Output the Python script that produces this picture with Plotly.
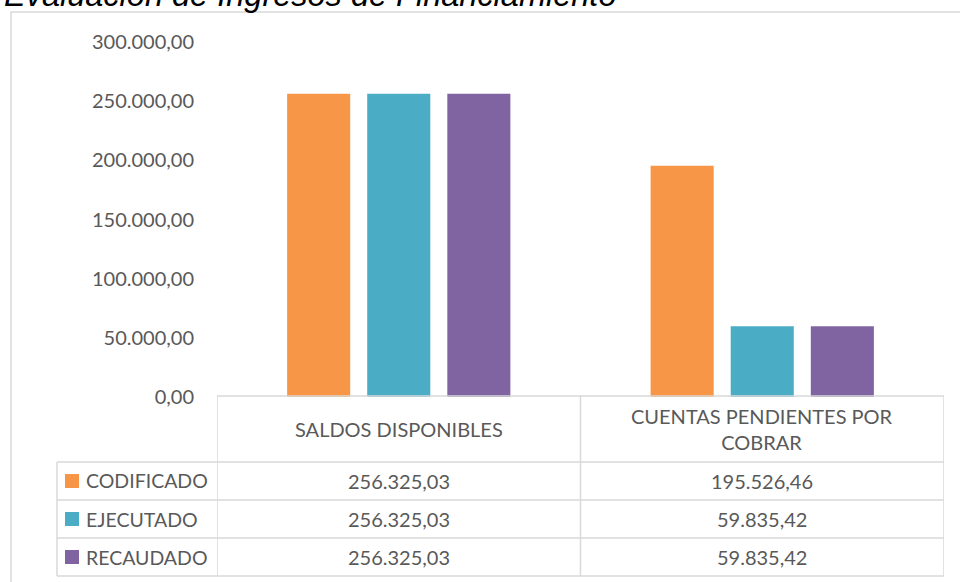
import plotly.graph_objects as go

categories = ["SALDOS DISPONIBLES", "CUENTAS PENDIENTES POR<br>COBRAR"]
series_names = ["CODIFICADO", "EJECUTADO", "RECAUDADO"]
codificado = [256325.03, 195526.46]
ejecutado = [256325.03, 59835.42]
recaudado = [256325.03, 59835.42]
y_ticks = [0, 50000, 100000, 150000, 200000, 250000, 300000]
title_text = "Evaluación de Ingresos de Financiamiento"

colors = ["#F79646", "#4BACC6", "#8064A2"]
series_values = [codificado, ejecutado, recaudado]


def fmt(v):
    s = f"{v:,.2f}"
    return s.replace(",", "X").replace(".", ",").replace("X", ".")


W, H = 960, 582
L, R, T, B = 217, 944, 42, 397
FONT = "Lato"
TXT = "#595959"
GRID = "#d9d9d9"


def px(xp):
    return (xp - L) / (R - L)


def py(yp):
    return (B - yp) / (B - T)


fig = go.Figure()
xs = list(range(len(categories)))
for name, vals, c in zip(series_names, series_values, colors):
    fig.add_trace(go.Bar(x=xs, y=vals, name=name, marker_color=c,
                         marker_line_width=0, showlegend=False))

shapes = []
annotations = []

# outer chart border
shapes.append(dict(type="rect", xref="paper", yref="paper",
                   x0=px(11), x1=px(975), y0=py(12), y1=py(600),
                   line=dict(color=GRID, width=1.5), layer="below"))

# table lines
row_y = [396, 462, 500, 538, 576]
col_x_bounds = [-0.5, 0.5, 1.5]
shapes.append(dict(type="line", xref="x", yref="paper", x0=-0.5, x1=1.5,
                   y0=py(396), y1=py(396), line=dict(color=GRID, width=1.5)))
for yy in row_y[1:]:
    shapes.append(dict(type="line", xref="paper", yref="paper", x0=px(57), x1=1,
                       y0=py(yy), y1=py(yy), line=dict(color=GRID, width=1.5)))
for xb in col_x_bounds:
    shapes.append(dict(type="line", xref="x", yref="paper", x0=xb, x1=xb,
                       y0=py(396), y1=py(576), line=dict(color=GRID, width=1.5)))
shapes.append(dict(type="line", xref="paper", yref="paper", x0=px(57), x1=px(57),
                   y0=py(462), y1=py(576), line=dict(color=GRID, width=1.5)))

# header labels
for i, cat in enumerate(categories):
    annotations.append(dict(x=i, y=py(429), xref="x", yref="paper", text=cat,
                            showarrow=False, font=dict(family=FONT, size=20, color=TXT),
                            yanchor="middle", xanchor="center"))

# rows
row_centers = [481, 519, 557]
for name, vals, c, rc in zip(series_names, series_values, colors, row_centers):
    shapes.append(dict(type="rect", xref="paper", yref="paper",
                       x0=px(65), x1=px(79), y0=py(rc - 7), y1=py(rc + 7),
                       fillcolor=c, line=dict(width=0)))
    annotations.append(dict(x=px(84), y=py(rc), xref="paper", yref="paper", text=name,
                            showarrow=False, font=dict(family=FONT, size=19.5, color=TXT),
                            xanchor="left", yanchor="middle"))
    for i, v in enumerate(vals):
        annotations.append(dict(x=i, y=py(rc), xref="x", yref="paper", text=fmt(v),
                                showarrow=False, font=dict(family=FONT, size=20, color=TXT),
                                xanchor="center", yanchor="middle"))

# title (clipped at top, as in reference)
annotations.append(dict(x=px(2), y=py(-5), xref="paper", yref="paper", text="<i>" + title_text + "</i>",
                        showarrow=False, font=dict(family="Liberation Sans", size=32.5, color="#000000"),
                        xanchor="left", yanchor="middle"))

fig.update_layout(
    width=W, height=H,
    margin=dict(l=L, r=W - R, t=T, b=H - B, pad=0),
    paper_bgcolor="white", plot_bgcolor="white",
    barmode="group", bargap=0.339, bargroupgap=0.2125,
    shapes=shapes, annotations=annotations,
    xaxis=dict(range=[-0.5, 1.5], showticklabels=False, showgrid=False,
               zeroline=False, showline=False, ticks=""),
    yaxis=dict(range=[0, 300000], tickvals=y_ticks, ticktext=[fmt(v) for v in y_ticks],
               showgrid=False, zeroline=False, showline=False, ticks="",
               ticklabelstandoff=22,
               tickfont=dict(family=FONT, size=20, color=TXT)),
    showlegend=False,
)

fig.write_html("out.html", config={"displayModeBar": False},
               post_script="document.body.style.margin='0';document.body.style.overflow='hidden';")
